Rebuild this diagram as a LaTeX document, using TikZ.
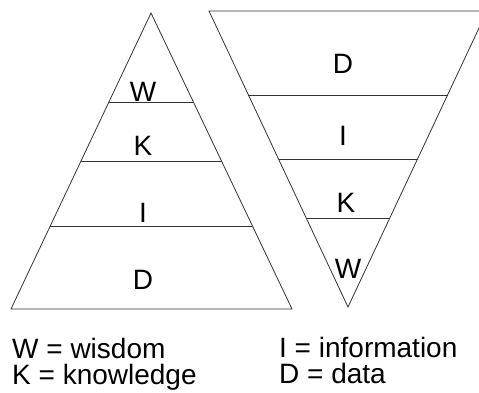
\documentclass[tikz,border=0pt]{standalone}
\usepackage{fontspec}
\setmainfont{Liberation Sans}
\usetikzlibrary{calc}
\begin{document}
\begin{tikzpicture}[x=1pt,y=-1pt,
  edge/.style={draw=black!80,line width=0.8pt,line join=miter},
  lvl/.style={inner sep=0pt,anchor=base,font=\fontsize{28}{32}\selectfont},
  legend/.style={inner sep=0pt,anchor=base west,font=\fontsize{28}{32}\selectfont}]
\path[use as bounding box] (0,0) rectangle (479,392);
\clip (0,0) rectangle (479,392);

% upright pyramid
\coordinate (pa) at (151,13);
\coordinate (pl) at (11,309);
\coordinate (pr) at (292,309);
\draw[edge] (pa) -- (pl) -- (pr) -- cycle;
\draw[edge] ($(pa)!0.3007!(pl)$) -- ($(pa)!0.3007!(pr)$);
\draw[edge] ($(pa)!0.5!(pl)$) -- ($(pa)!0.5!(pr)$);
\draw[edge] ($(pa)!0.7196!(pl)$) -- ($(pa)!0.7196!(pr)$);
\node[lvl] (pw) at (143,101) {W};
\node[lvl] (pk) at (143,155) {K};
\node[lvl] (pi) at (143,222) {I};
\node[lvl] (pd) at (143,289) {D};

% inverted pyramid
\coordinate (ql) at (209,11);
\coordinate (qr) at (487,11);
\coordinate (qa) at (348,307);
\draw[edge] (ql) -- (qr) -- (qa) -- cycle;
\draw[edge] ($(ql)!0.2838!(qa)$) -- ($(qr)!0.2838!(qa)$);
\draw[edge] ($(ql)!0.5!(qa)$) -- ($(qr)!0.5!(qa)$);
\draw[edge] ($(ql)!0.6993!(qa)$) -- ($(qr)!0.6993!(qa)$);
\node[lvl] (qd) at (343,73) {D};
\node[lvl] (qi) at (343,145) {I};
\node[lvl] (qk) at (346,212) {K};
\node[lvl] (qw) at (348,278) {W};

% key
\node[legend] (kw) at (12,358) {W = wisdom};
\node[legend] (kk) at (12,384) {K = knowledge};
\node[legend] (ki) at (279,357) {I = information};
\node[legend] (kd) at (279,383) {D = data};
\end{tikzpicture}
\end{document}
